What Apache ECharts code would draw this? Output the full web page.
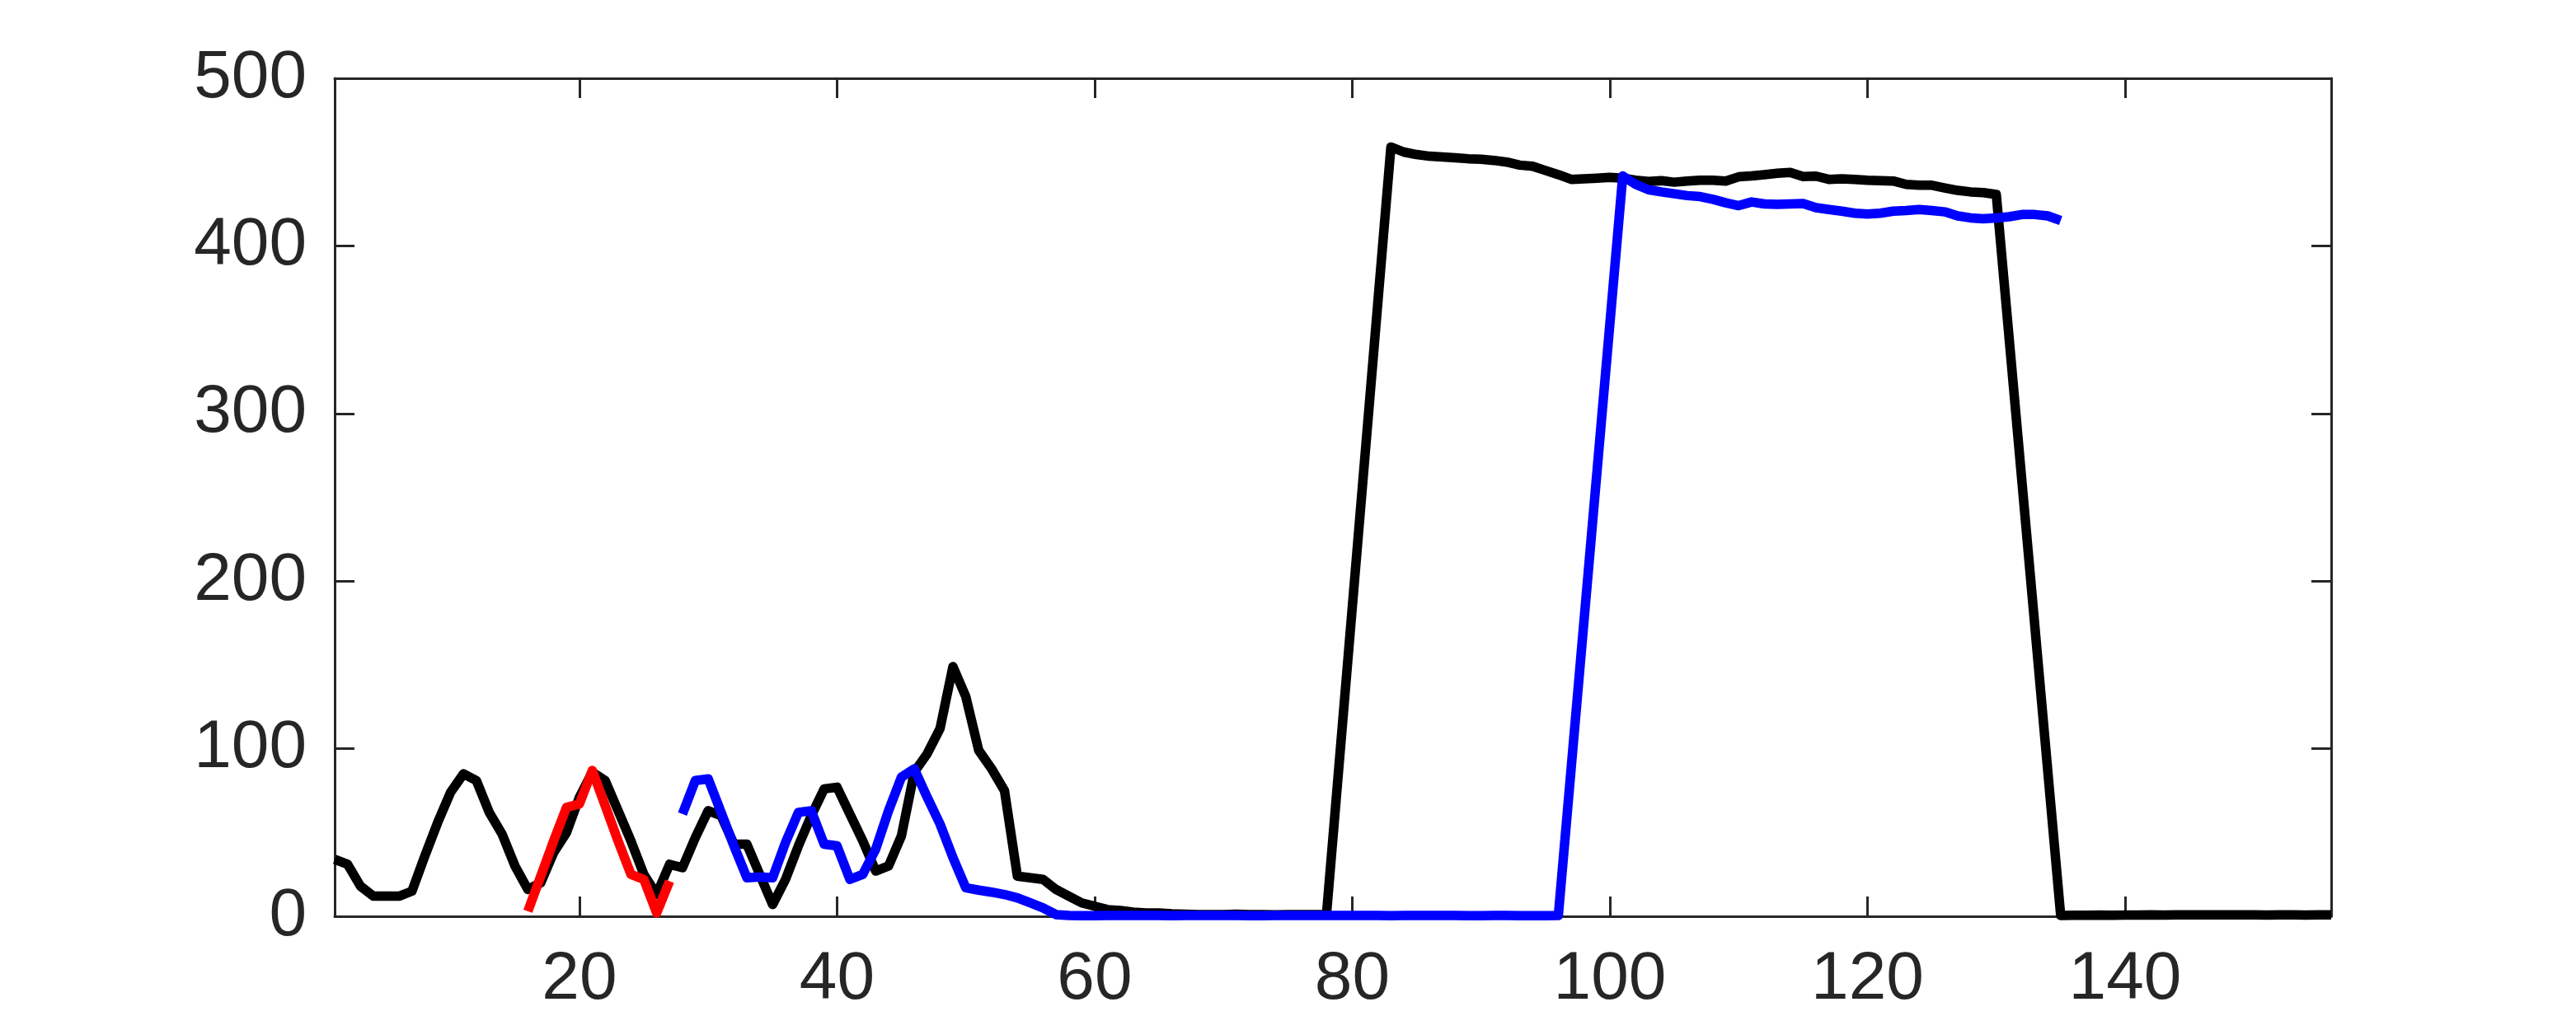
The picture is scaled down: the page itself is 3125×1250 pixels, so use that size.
<!DOCTYPE html>
<html>
<head>
<meta charset="utf-8">
<script src="https://cdn.jsdelivr.net/npm/echarts@6/dist/echarts.min.js"></script>
<style>
html,body{margin:0;padding:0;background:#fff;}
#chart{width:3125px;height:1250px;}
</style>
</head>
<body>
<div id="chart"></div>
<script>
// ---- data ----
const blackX = [1,2,3,4,5,6,7,8,9,10,11,12,13,14,15,16,17,18,19,20,21,22,23,24,25,26,27,28,29,30,
  31,32,33,34,35,36,37,38,39,40,41,42,43,44,45,46,47,48,49,50,51,52,53,54,55,56,57,58,59,60,
  61,62,63,64,65,66,67,68,69,70,71,72,73,74,75,76,77,78,
  83,84,85,86,87,88,89,90,91,92,93,94,95,96,97,98,99,100,101,102,103,104,105,106,107,108,109,110,
  111,112,113,114,115,116,117,118,119,120,121,122,123,124,125,126,127,128,129,130,
  135,136,137,138,139,140,141,142,143,144,145,146,147,148,149,150,151,152,153,154,155,156];
const blackY = [34,31,18,12,12,12,15,36,56,74,85,81,62,49,30,16,20,38,50,71,86,81,63,45,25,13,31,29,47,63,
  60,43,43,25,7,22,42,60,76,77,61,45,27,30,48,86,97,112,149,131,99,88,75,24,23,22,16,12,8,6,
  4,3.5,2.5,2,2,1.5,1.2,1,1,1,1.2,1,1,0.8,1,1,1,1,
  459,456,454.5,453.5,453,452.6,452,451.7,451,450,448.2,447.5,445,442.5,439.7,440,440.4,440.9,440.4,439.2,438.4,438.9,438,438.7,439.2,439.2,438.7,441.2,
  441.7,442.5,443.3,443.8,441.4,441.6,439.7,440,439.7,439.2,438.9,438.7,436.7,436.2,436.2,434.6,433.1,432.2,431.8,430.7,
  0.5,0.6,0.6,0.7,0.6,0.7,0.7,0.8,0.7,0.8,0.8,0.8,0.9,0.9,0.8,0.8,0.7,0.8,0.8,0.7,0.8,0.8];

const redX = [16,17,18,19,20,21,22,23,24,25,26,27];
const redY = [3,24,45,65,67,87,66,45,25,22,2,21];

const blueX = [28,29,30,31,32,33,34,35,36,37,38,39,40,41,42,43,44,45,46,47,48,49,50,51,52,53,54,55,56,57,
  58,59,60,61,62,63,64,65,66,67,68,69,70,71,72,73,74,75,76,77,78,79,80,81,82,83,84,85,86,87,88,89,90,
  91,92,93,94,95,96,
  101,102,103,104,105,106,107,108,109,110,111,112,113,114,115,116,117,118,119,120,
  121,122,123,124,125,126,127,128,129,130,131,132,133,134,135];
const blueY = [61,81,82,62,42,23,23.5,23,44,62,63,43,42,22,25,40,63,83,88,71,55,35,17,15.6,14.4,13,11,8,5,1,
  0.5,0.4,0.4,0.5,0.5,0.5,0.5,0.5,0.4,0.5,0.5,0.5,0.5,0.5,0.4,0.4,0.5,0.5,0.5,0.5,0.5,0.5,0.5,0.5,0.5,0.4,0.5,0.5,0.5,0.5,0.5,0.4,0.4,
  0.5,0.5,0.4,0.4,0.4,0.5,
  441.7,436.7,433.5,432.2,431.1,430,429.4,427.8,425.7,424,426.2,425,424.8,425,425.3,422.8,421.7,420.7,419.5,419,
  419.5,420.7,421.1,421.7,421.1,420.3,417.9,416.7,416.2,416.7,417.4,418.7,418.7,417.9,415.1];

const xTicks = [20,40,60,80,100,120,140];
const yMin = 0, yMax = 500, yStep = 100;
const xMin = 1, xMax = 156;

function pairs(xs, ys){ return xs.map((x,i)=>[x, ys[i]]); }

const axisColor = '#262626';
const fontFamily = '"Liberation Sans", Arial, Helvetica, sans-serif';

const chart = echarts.init(document.getElementById('chart'), null, {renderer:'canvas'});

function xAxisDef(pos, showLabel){
  return {
    type:'value', min:xMin, max:xMax, position:pos,
    axisLine:{show:true, onZero:false, lineStyle:{color:axisColor, width:3}},
    axisTick:{show:true, inside:true, length:24, customValues:xTicks, lineStyle:{color:axisColor, width:3}},
    axisLabel:{show:showLabel, customValues:xTicks, margin:36, fontSize:82, color:axisColor, fontFamily:fontFamily},
    splitLine:{show:false}
  };
}
function yAxisDef(pos, showLabel){
  return {
    type:'value', min:yMin, max:yMax, interval:yStep, position:pos,
    axisLine:{show:true, onZero:false, lineStyle:{color:axisColor, width:3}},
    axisTick:{show:true, inside:true, length:24, lineStyle:{color:axisColor, width:3}},
    axisLabel:{show:showLabel, margin:34, fontSize:82, color:axisColor, fontFamily:fontFamily},
    splitLine:{show:false}
  };
}

function lineSeries(name, data, color){
  return {
    name:name, type:'line', data:data, xAxisIndex:0, yAxisIndex:0,
    showSymbol:false, symbol:'none', clip:false, animation:false,
    lineStyle:{color:color, width:11.5, cap:'butt', join:'round'},
    z:3
  };
}

chart.setOption({
  backgroundColor:'#ffffff',
  animation:false,
  grid:{left:406, right:297, top:95, bottom:138, containLabel:false},
  xAxis:[xAxisDef('bottom', true), xAxisDef('top', false)],
  yAxis:[yAxisDef('left', true), yAxisDef('right', false)],
  series:[
    lineSeries('black', pairs(blackX, blackY), '#000000'),
    lineSeries('red', pairs(redX, redY), '#ff0000'),
    lineSeries('blue', pairs(blueX, blueY), '#0000ff')
  ]
});
</script>
</body>
</html>
